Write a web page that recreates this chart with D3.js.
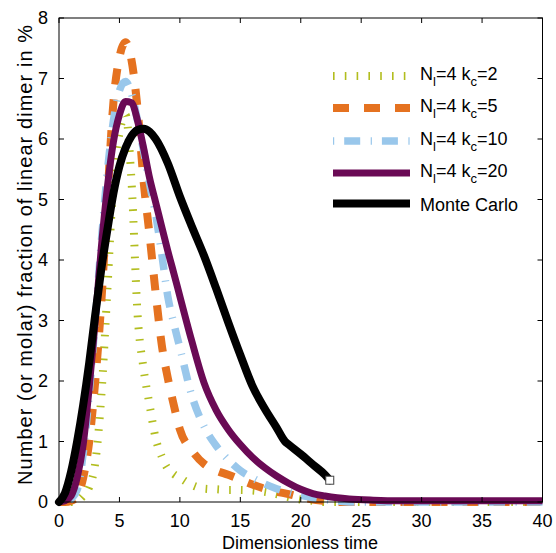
<!DOCTYPE html>
<html>
<head>
<meta charset="utf-8">
<script src="https://cdn.jsdelivr.net/npm/d3@7"></script>
<style>
html,body{margin:0;padding:0;background:#fff;}
svg{display:block;font-family:"Liberation Sans",Arial,sans-serif;}
</style>
</head>
<body>
<svg id="chart" width="556" height="553"></svg>
<script>
// ---- data ----
const modelTime = [0,0.5,1,1.5,2,2.5,3,3.5,4,4.5,5,5.5,6,6.5,7,7.5,8,8.5,9,9.5,10,11,12,13,14,15,16,17,18,19,20,21,22,23,24,26,28,30,35,40];
const kc2  = [0,0,0,0.02,0.1,0.25,0.65,1.75,3.5,5.3,6.1,6.4,5.3,3.1,2.2,1.6,1.05,0.75,0.55,0.46,0.4,0.28,0.22,0.21,0.2,0.2,0.19,0.17,0.13,0.08,0.04,0.02,0,0,0,0,0,0,0,0];
const kc5  = [0,0,0.02,0.1,0.4,1.0,2.0,3.3,5.0,6.6,7.35,7.6,7.3,6.5,5.3,4.4,3.45,2.6,2.05,1.6,1.2,0.85,0.63,0.52,0.45,0.37,0.29,0.22,0.17,0.13,0.08,0.04,0.02,0,0,0,0,0,0,0];
const kc10 = [0,0,0.05,0.2,0.8,1.8,3.0,4.3,5.45,6.3,6.8,6.95,6.75,6.3,5.8,5.25,4.75,4.1,3.4,2.95,2.55,1.75,1.25,0.93,0.7,0.52,0.4,0.3,0.22,0.16,0.11,0.07,0.04,0.02,0,0,0,0,0,0];
const kc20 = [0,0.02,0.1,0.4,0.95,1.9,3.0,4.2,5.2,5.95,6.4,6.62,6.6,6.3,5.85,5.35,4.95,4.55,4.15,3.78,3.4,2.65,1.97,1.52,1.2,0.95,0.74,0.57,0.43,0.31,0.21,0.14,0.1,0.07,0.05,0.03,0.02,0.02,0.02,0.02];
const mcTime  = [0,0.5,1,1.5,2,2.5,3,3.5,4,4.5,5,5.5,6,6.5,7,7.5,8,9,10,11,12,13,14,15,16,17,18,18.7,19,20,21,22,22.4];
const mcValue = [0,0.15,0.5,1.0,1.6,2.3,3.1,3.85,4.5,5.1,5.55,5.85,6.05,6.15,6.17,6.12,6.0,5.6,5.05,4.55,4.07,3.53,2.97,2.43,1.92,1.55,1.23,1.0,0.95,0.79,0.62,0.45,0.36];
const seriesNames = ["kc2","kc5","kc10","kc20","mc"];
const legendLabels = [["4","2"],["4","5"],["4","10"],["4","20"],null];
const xTicks = [0,5,10,15,20,25,30,35,40];
const yTicks = [0,1,2,3,4,5,6,7,8];

// ---- layout ----
const svg = d3.select("#chart");
const L = 59, R = 542.5, T = 18, B = 502;
const x = d3.scaleLinear().domain([0,40]).range([L,R]);
const y = d3.scaleLinear().domain([0,8]).range([B,T]);
const FS = 18;

const styles = {
  kc2:  {color:"#b2bd1e", width:8,   dash:"1.6,10.2", cap:"butt"},
  kc5:  {color:"#e57220", width:8,   dash:"16,15",    cap:"butt"},
  kc10: {color:"#99c7eb", width:7.5, dash:"1.2,10,16,10.5", cap:"butt"},
  kc20: {color:"#6a0a55", width:7,   dash:null,       cap:"butt"},
  mc:   {color:"#000000", width:8,   dash:null,       cap:"round"}
};

const line = d3.line().x(d=>x(d[0])).y(d=>y(d[1])).curve(d3.curveMonotoneX);
const dataSets = {
  kc2: modelTime.map((t,i)=>[t,kc2[i]]),
  kc5: modelTime.map((t,i)=>[t,kc5[i]]),
  kc10: modelTime.map((t,i)=>[t,kc10[i]]),
  kc20: modelTime.map((t,i)=>[t,kc20[i]]),
  mc: mcTime.map((t,i)=>[t,mcValue[i]])
};

const g = svg.append("g");
seriesNames.forEach(n=>{
  const s = styles[n];
  g.append("path").datum(dataSets[n])
    .attr("d", line)
    .attr("fill","none")
    .attr("stroke", s.color)
    .attr("stroke-width", s.width)
    .attr("stroke-linecap", s.cap)
    .attr("stroke-linejoin","round")
    .attr("stroke-dasharray", s.dash);
});
// end marker of Monte Carlo
const last = dataSets.mc[dataSets.mc.length-1];
g.append("rect")
  .attr("x", x(last[0])-4).attr("y", y(last[1])-4)
  .attr("width",8).attr("height",8)
  .attr("fill","#fff").attr("stroke","#444").attr("stroke-width",1);

// ---- axes (box with inward ticks) ----
const ax = svg.append("g").attr("stroke","#000").attr("stroke-width",1).attr("fill","none");
ax.append("rect").attr("x",L).attr("y",T).attr("width",R-L).attr("height",B-T);
const tl = 5;
xTicks.forEach(t=>{
  ax.append("line").attr("x1",x(t)).attr("x2",x(t)).attr("y1",B).attr("y2",B-tl);
  ax.append("line").attr("x1",x(t)).attr("x2",x(t)).attr("y1",T).attr("y2",T+tl);
});
yTicks.forEach(t=>{
  ax.append("line").attr("x1",L).attr("x2",L+tl).attr("y1",y(t)).attr("y2",y(t));
  ax.append("line").attr("x1",R).attr("x2",R-tl).attr("y1",y(t)).attr("y2",y(t));
});

const txt = svg.append("g").attr("fill","#000").attr("font-size",FS);
xTicks.forEach(t=>{
  txt.append("text").attr("x",x(t)).attr("y",B+25).attr("text-anchor","middle").text(t);
});
yTicks.forEach(t=>{
  txt.append("text").attr("x",L-11).attr("y",y(t)+6).attr("text-anchor","end").text(t);
});
txt.append("text").attr("x",300).attr("y",549).attr("text-anchor","middle").text("Dimensionless time");
txt.append("text").attr("transform",`translate(32,${255}) rotate(-90)`)
  .attr("text-anchor","middle").attr("font-size",20)
  .attr("textLength",460).attr("lengthAdjust","spacing")
  .text("Number (or molar) fraction of linear dimer in %");

// ---- legend ----
const legY = [76,108,141,173,203.5];
const legBase = [80,112,145,177,211];
const lx1 = 333, lx2 = 410, tx = 420;
const lg = svg.append("g");
seriesNames.forEach((n,i)=>{
  const s = styles[n];
  lg.append("line").attr("x1",lx1).attr("x2",lx2).attr("y1",legY[i]).attr("y2",legY[i])
    .attr("stroke",s.color).attr("stroke-width",s.width)
    .attr("stroke-dasharray",s.dash).attr("stroke-linecap","butt");
  const t = lg.append("text").attr("x",tx).attr("y",legBase[i]).attr("font-size",FS);
  const lab = legendLabels[i];
  if (lab) {
    t.append("tspan").text("N");
    t.append("tspan").attr("dy",6).attr("font-size",13).text("l");
    t.append("tspan").attr("dy",-6).text("="+lab[0]+" k");
    t.append("tspan").attr("dy",6).attr("font-size",13).text("c");
    t.append("tspan").attr("dy",-6).text("="+lab[1]);
  } else {
    t.text("Monte Carlo");
  }
});
</script>
</body>
</html>
